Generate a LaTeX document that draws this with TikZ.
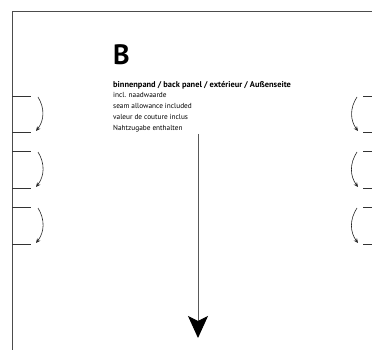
\documentclass[tikz,border=0pt]{standalone}
\usepackage{fontspec}
\setmainfont{PT Sans}
\usepackage{tikz}
\usetikzlibrary{arrows.meta}

\begin{document}
\begin{tikzpicture}[x=1pt, y=-1pt,
	frame/.style={line width=1pt, draw=black!70},
	tick/.style={line width=0.8pt, draw=black!80},
	fold/.style={-{Stealth[length=4.5pt, width=4pt, inset=1.5pt]}, line width=0.6pt, draw=black!85},
	txt/.style={anchor=base west, inner sep=0pt, font=\fontsize{7.3}{8}\selectfont},
	bigarrow/.style={-{Stealth[length=22pt, width=20pt, inset=5pt, color=black]}, line width=1pt, draw=black!65}]
\useasboundingbox (0,0) rectangle (372,350);

\coordinate (cornerTR) at (372,12);
\coordinate (cornerTL) at (12,12);
\coordinate (cornerBL) at (12,350);
\draw[frame] (cornerTR) -- (cornerTL) -- (cornerBL);

\foreach \n/\y in {1/96, 2/132, 3/151, 4/188, 5/207, 6/244} {
	\coordinate (leftA\n) at (12,\y);
	\coordinate (leftB\n) at (31,\y);
	\coordinate (rightA\n) at (363,\y);
	\coordinate (rightB\n) at (372,\y);
	\draw[tick] (leftA\n) -- (leftB\n);
	\draw[tick] (rightA\n) -- (rightB\n);
}

\foreach \n/\a/\b in {1/97/131, 2/152/187, 3/208/243} {
	\coordinate (leftStart\n) at (38,\a);
	\coordinate (leftEnd\n) at (36,\b);
	\coordinate (rightStart\n) at (357,\a);
	\coordinate (rightEnd\n) at (358,\b);
	\draw[fold] (leftStart\n) to[bend left=35] (leftEnd\n);
	\draw[fold] (rightStart\n) to[bend right=35] (rightEnd\n);
}

\draw (113,65) node[anchor=base west, inner sep=0pt, font=\fontsize{28}{28}\bfseries\selectfont] (letter) {B};

\draw (113,88) node[txt, font=\fontsize{8.4}{9}\bfseries\selectfont] (title) {binnenpand / back panel / extérieur / Außenseite};

\draw (113,98) node[txt] (lineNL) {incl. naadwaarde};

\draw (113,109) node[txt] (lineEN) {seam allowance included};

\draw (113,120) node[txt] (lineFR) {valeur de couture inclus};

\draw (113,131) node[txt] (lineDE) {Nahtzugabe enthalten};

\coordinate (arrowTop) at (198,134);
\coordinate (arrowTip) at (198,338);
\draw[bigarrow] (arrowTop) -- (arrowTip);

\end{tikzpicture}
\end{document}
